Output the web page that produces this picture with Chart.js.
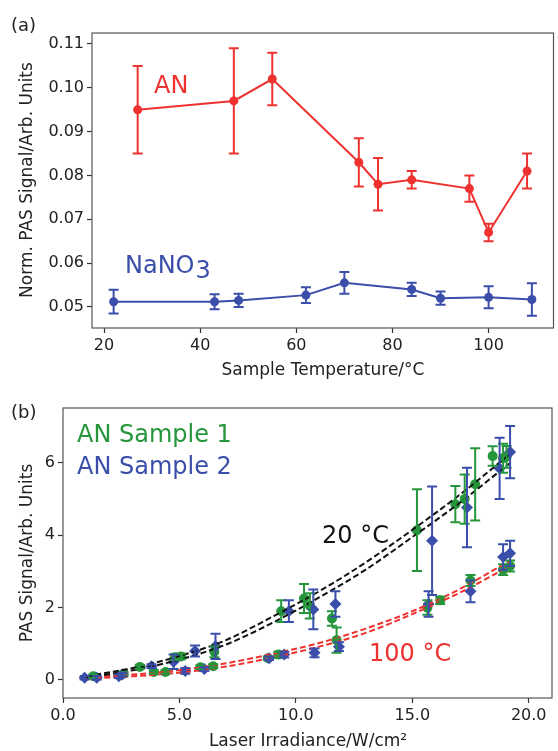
<!DOCTYPE html>
<html>
<head>
<meta charset="utf-8">
<script src="https://cdn.jsdelivr.net/npm/chart.js@4.4.1/dist/chart.umd.min.js"></script>
<style>
body{margin:0;background:#fff;}
#wrap{position:relative;width:558px;height:751px;}
canvas{position:absolute;left:0;}
</style>
</head>
<body>
<div id="wrap">
<canvas id="chartA" width="558" height="385" style="top:0"></canvas>
<canvas id="chartB" width="558" height="366" style="top:385px"></canvas>
</div>
<script>
// ---- (a) signal vs temperature ----
var tempAN   = [27, 47, 55, 73, 77, 84, 96, 100, 108];
var signalAN = [0.095, 0.097, 0.102, 0.083, 0.078, 0.079, 0.077, 0.067, 0.081];
var errAN    = [0.010, 0.012, 0.006, 0.0055, 0.006, 0.002, 0.003, 0.002, 0.004];

var tempNa   = [22, 43, 48, 62, 70, 84, 90, 100, 109];
var signalNa = [0.0512, 0.0512, 0.0515, 0.0527, 0.0555, 0.054, 0.052, 0.0522, 0.0517];
var errNa    = [0.0027, 0.0017, 0.0015, 0.0018, 0.0025, 0.0015, 0.0015, 0.0025, 0.0037];

var tempTicks = [20, 40, 60, 80, 100];
var normTicks = [0.05, 0.06, 0.07, 0.08, 0.09, 0.10, 0.11];

// ---- (b) signal vs irradiance ----
var irrS1 = [1.3, 2.6, 3.3, 3.9, 4.4, 4.8, 5.07, 5.9, 6.45, 6.5, 8.8, 9.25, 9.37, 10.35, 10.6, 11.55, 11.75,
             15.2, 15.65, 16.2, 16.85, 17.25, 17.5, 17.7, 18.45, 18.9, 18.9, 19.05, 19.2];
var sigS1 = [0.1, 0.17, 0.36, 0.22, 0.22, 0.63, 0.65, 0.35, 0.38, 0.78, 0.6, 0.7, 1.9, 2.25, 2.05, 1.7, 1.1,
             4.14, 2.0, 2.2, 4.86, 5.0, 2.75, 5.41, 6.19, 3.05, 6.13, 6.17, 3.15];
var errS1 = [0.05, 0.05, 0.05, 0.05, 0.05, 0.08, 0.08, 0.05, 0.05, 0.15, 0.05, 0.08, 0.3, 0.4, 0.35, 0.2, 0.35,
             1.13, 0.2, 0.1, 0.5, 0.68, 0.15, 1.0, 0.27, 0.15, 0.4, 0.3, 0.15];

var irrS2 = [0.93, 1.45, 2.4, 2.55, 3.8, 4.75, 5.25, 5.67, 6.07, 6.55, 8.85, 9.5, 9.7, 10.75, 10.8, 11.7, 11.85,
             15.7, 15.85, 17.35, 17.5, 18.75, 18.9, 19.2, 19.2];
var sigS2 = [0.06, 0.06, 0.1, 0.15, 0.38, 0.5, 0.25, 0.8, 0.3, 0.93, 0.6, 0.7, 1.9, 1.95, 0.75, 2.1, 0.92,
             2.1, 3.85, 4.77, 2.45, 5.85, 3.4, 6.3, 3.5];
var errS2 = [0.05, 0.05, 0.05, 0.05, 0.05, 0.2, 0.08, 0.15, 0.05, 0.35, 0.05, 0.08, 0.3, 0.55, 0.12, 0.35, 0.12,
             0.35, 1.5, 1.1, 0.3, 0.85, 0.35, 0.72, 0.35];

// dashed fit curves
var fitX     = [1, 3, 5, 7, 9, 11, 13, 15, 17, 19.2];
var fit20a   = [0.1, 0.33, 0.66, 1.1, 1.75, 2.45, 3.25, 4.15, 5.1, 6.25];
var fit20b   = [0.06, 0.27, 0.56, 0.98, 1.58, 2.28, 3.05, 3.95, 4.88, 6.0];
var fit100a  = [0.07, 0.15, 0.27, 0.46, 0.72, 1.02, 1.42, 1.9, 2.5, 3.3];
var fit100b  = [0.04, 0.1, 0.2, 0.37, 0.62, 0.92, 1.3, 1.82, 2.4, 3.15];

var irrTicks = [0, 5, 10, 15, 20];
var pasTicks = [0, 2, 4, 6];

var RED = 'rgb(238,50,48)';
var BLUE = 'rgb(58,78,170)';
var GREEN = 'rgb(38,150,60)';
var FONT = 'DejaVu Sans';

function pts(xs, ys) { return xs.map(function (x, i) { return {x: x, y: ys[i]}; }); }

var errorBars = {
  id: 'errorBars',
  afterDatasetsDraw: function (chart) {
    var ctx = chart.ctx, ys = chart.scales.y;
    chart.data.datasets.forEach(function (ds, i) {
      if (!ds.errors) return;
      var meta = chart.getDatasetMeta(i);
      ctx.save();
      ctx.strokeStyle = ds.borderColor;
      ctx.lineWidth = 2;
      meta.data.forEach(function (p, j) {
        var v = ds.data[j].y, e = ds.errors[j];
        var t = ys.getPixelForValue(v + e), b = ys.getPixelForValue(v - e);
        ctx.beginPath();
        ctx.moveTo(p.x, t); ctx.lineTo(p.x, b);
        ctx.moveTo(p.x - 5, t); ctx.lineTo(p.x + 5, t);
        ctx.moveTo(p.x - 5, b); ctx.lineTo(p.x + 5, b);
        ctx.stroke();
      });
      ctx.restore();
    });
  }
};

var frame = {
  id: 'frame',
  afterDraw: function (chart) {
    var a = chart.chartArea, ctx = chart.ctx;
    ctx.save();
    ctx.strokeStyle = '#555';
    ctx.lineWidth = 1.2;
    ctx.strokeRect(a.left, a.top, a.right - a.left, a.bottom - a.top);
    ctx.restore();
  }
};

// free text: panel letters, axis titles, in-plot labels
// an item with "sub" gets a lowered tail right after its text (NaNO3)
function textPlugin(items) {
  return {
    id: 'texts',
    afterDraw: function (chart) {
      var ctx = chart.ctx;
      items.forEach(function (t) {
        ctx.save();
        ctx.font = t.size + 'px "' + FONT + '"';
        ctx.fillStyle = t.color || '#222';
        ctx.textAlign = t.align || 'left';
        ctx.textBaseline = 'alphabetic';
        ctx.translate(t.x, t.y);
        if (t.rot) ctx.rotate(t.rot);
        ctx.fillText(t.text, 0, 0);
        if (t.sub) ctx.fillText(t.sub, ctx.measureText(t.text).width + 1, 5);
        ctx.restore();
      });
    }
  };
}

function axis(min, max, ticks, fmt) {
  return {
    type: 'linear', min: min, max: max,
    afterBuildTicks: function (s) { s.ticks = ticks.map(function (v) { return {value: v}; }); },
    ticks: {font: {family: FONT, size: 16}, color: '#222', padding: 3, callback: fmt},
    grid: {drawOnChartArea: false, tickLength: 5, color: '#333', tickWidth: 1.2},
    border: {display: false}
  };
}

// ---------- chart (a) ----------
var xA = axis(17.5, 113.5, tempTicks, function (v) { return v; });
xA.afterFit = function (s) { s.height = 57; };
var yA = axis(0.0452, 0.1125, normTicks, function (v) { return v.toFixed(2); });
yA.afterFit = function (s) { s.width = 92; };

new Chart(document.getElementById('chartA'), {
  type: 'line',
  data: {
    datasets: [
      {data: pts(tempAN, signalAN), errors: errAN, borderColor: RED, backgroundColor: RED,
       borderWidth: 2, pointRadius: 4.5, pointBorderWidth: 0, tension: 0},
      {data: pts(tempNa, signalNa), errors: errNa, borderColor: BLUE, backgroundColor: BLUE,
       borderWidth: 2, pointRadius: 4.5, pointBorderWidth: 0, tension: 0}
    ]
  },
  options: {
    responsive: false, animation: false, devicePixelRatio: 1,
    layout: {padding: {top: 33, right: 3, left: 0, bottom: 0}},
    scales: {x: xA, y: yA},
    plugins: {legend: {display: false}, tooltip: {enabled: false}}
  },
  plugins: [errorBars, frame, textPlugin([
    {text: '(a)', x: 11, y: 31, size: 18},
    {text: 'AN', x: 154, y: 93, size: 24, color: RED},
    {text: 'NaNO', sub: '3', x: 125, y: 273, size: 24, color: BLUE},
    {text: 'Sample Temperature/°C', x: 323, y: 375, size: 17, align: 'center'},
    {text: 'Norm. PAS Signal/Arb. Units', x: 32, y: 180, size: 17, align: 'center', rot: -Math.PI / 2}
  ])]
});

// ---------- chart (b) ----------
var xB = axis(0, 21, irrTicks, function (v) { return v.toFixed(1); });
xB.afterFit = function (s) { s.height = 53; };
var yB = axis(-0.5, 7.52, pasTicks, function (v) { return v; });
yB.afterFit = function (s) { s.width = 63; };

function fitLine(ys, color) {
  return {type: 'line', data: pts(fitX, ys), borderColor: color, borderWidth: 2, borderDash: [6, 3],
          pointRadius: 0, cubicInterpolationMode: 'monotone', order: 0};
}

new Chart(document.getElementById('chartB'), {
  type: 'scatter',
  data: {
    datasets: [
      fitLine(fit20a, '#111'), fitLine(fit20b, '#111'),
      fitLine(fit100a, RED), fitLine(fit100b, RED),
      {data: pts(irrS1, sigS1), errors: errS1, borderColor: GREEN, backgroundColor: GREEN,
       pointRadius: 5, pointBorderWidth: 0, order: 2},
      {data: pts(irrS2, sigS2), errors: errS2, borderColor: BLUE, backgroundColor: BLUE,
       pointStyle: 'rectRot', pointRadius: 6, pointBorderWidth: 0, order: 1}
    ]
  },
  options: {
    responsive: false, animation: false, devicePixelRatio: 1,
    layout: {padding: {top: 23, right: 4, left: 0, bottom: 0}},
    scales: {x: xB, y: yB},
    plugins: {legend: {display: false}, tooltip: {enabled: false}}
  },
  plugins: [errorBars, frame, textPlugin([
    {text: '(b)', x: 11, y: 33, size: 18},
    {text: 'AN Sample 1', x: 77, y: 57, size: 24, color: GREEN},
    {text: 'AN Sample 2', x: 77, y: 89, size: 24, color: BLUE},
    {text: '20 °C', x: 322, y: 158, size: 24, color: '#111'},
    {text: '100 °C', x: 369, y: 276, size: 24, color: RED},
    {text: 'Laser Irradiance/W/cm²', x: 308, y: 361, size: 17, align: 'center'},
    {text: 'PAS Signal/Arb. Units', x: 32, y: 168, size: 17, align: 'center', rot: -Math.PI / 2}
  ])]
});
</script>
</body>
</html>
